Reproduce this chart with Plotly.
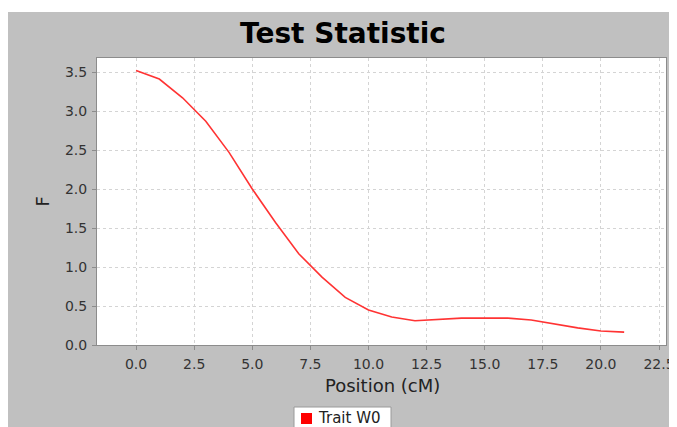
import plotly.graph_objects as go

positions = [0, 1, 2, 3, 4, 5, 6, 7, 8, 9, 10, 11, 12, 13, 14, 15, 16, 17, 18, 19, 20, 21]
f_values = [3.52, 3.41, 3.17, 2.87, 2.47, 2.00, 1.57, 1.17, 0.87, 0.61, 0.45, 0.36, 0.31,
            0.33, 0.345, 0.345, 0.345, 0.32, 0.27, 0.22, 0.18, 0.165]
series_name = "Trait W0"
x_ticks = [0, 2.5, 5, 7.5, 10, 12.5, 15, 17.5, 20, 22.5]
x_tick_labels = ["0.0", "2.5", "5.0", "7.5", "10.0", "12.5", "15.0", "17.5", "20.0", "22.5"]
y_ticks = [0, 0.5, 1, 1.5, 2, 2.5, 3, 3.5]
y_tick_labels = ["0.0", "0.5", "1.0", "1.5", "2.0", "2.5", "3.0", "3.5"]

# the page places the figure 8px from the top-left corner (default body margin)
O = 8
PAGE_W, PAGE_H = 677, 427
W, H = PAGE_W - O, PAGE_H - O
L, R, T, B = 97 - O, 666 - O, 58 - O, 345 - O
PW, PH = R - L, B - T


def px_x(p):
    return (p - O - L) / PW


def px_y(p):
    return (B - (p - O)) / PH


fig = go.Figure()
fig.add_trace(go.Scatter(x=positions, y=f_values, mode="lines", name=series_name,
                         line=dict(color="#ff3333", width=1.6), showlegend=False))

shapes = [
    # white strip above the grey chart panel
    dict(type="rect", xref="paper", yref="paper", x0=px_x(O), x1=px_x(PAGE_W), y0=px_y(12), y1=px_y(O),
         fillcolor="white", line=dict(width=0), layer="above"),
    # legend box
    dict(type="rect", xref="paper", yref="paper", x0=px_x(294), x1=px_x(391), y0=px_y(430), y1=px_y(407),
         fillcolor="white", line=dict(color="#9a9a9a", width=1), layer="above"),
    dict(type="rect", xref="paper", yref="paper", x0=px_x(301), x1=px_x(312), y0=px_y(424), y1=px_y(413),
         fillcolor="#ff0000", line=dict(width=0), layer="above"),
]

annotations = [
    dict(text="Position (cM)", xref="paper", yref="paper", x=px_x(382), y=px_y(385),
         xanchor="center", yanchor="middle", showarrow=False,
         font=dict(size=18, color="#222222")),
    dict(text="F", xref="paper", yref="paper", x=px_x(42), y=0.5, textangle=-90,
         xanchor="center", yanchor="middle", showarrow=False,
         font=dict(size=18, color="#222222")),
    dict(text=series_name, xref="paper", yref="paper", x=px_x(316), y=px_y(418),
         xanchor="left", yanchor="middle", showarrow=False,
         font=dict(size=15, color="#222222")),
]

fig.update_layout(
    width=W, height=H,
    margin=dict(l=L, r=W - R, t=T, b=H - B, pad=0, autoexpand=False),
    paper_bgcolor="#c0c0c0",
    plot_bgcolor="white",
    title=dict(text="<b>Test Statistic</b>", x=(343 - O) / W, xanchor="center",
               y=1 - (33 - O) / H, yanchor="middle", yref="container",
               font=dict(family="DejaVu Sans", size=28, color="black")),
    font=dict(family="DejaVu Sans", size=14, color="#333333"),
    showlegend=False,
    shapes=shapes,
    annotations=annotations,
)

axis_common = dict(
    showgrid=True, gridcolor="#d4d4d4", griddash="3px,3px", gridwidth=1,
    showline=True, linecolor="#8c8c8c", linewidth=1, mirror=True,
    ticks="outside", ticklen=4, tickcolor="#8c8c8c", ticklabelstandoff=2,
    tickfont=dict(size=14, color="#333333"),
    zeroline=False,
)
fig.update_xaxes(range=[-1.68, 22.8], tickvals=x_ticks, ticktext=x_tick_labels, **axis_common)
fig.update_yaxes(range=[0, 3.68], tickvals=y_ticks, ticktext=y_tick_labels, **axis_common)

fig.write_html("out.html")
